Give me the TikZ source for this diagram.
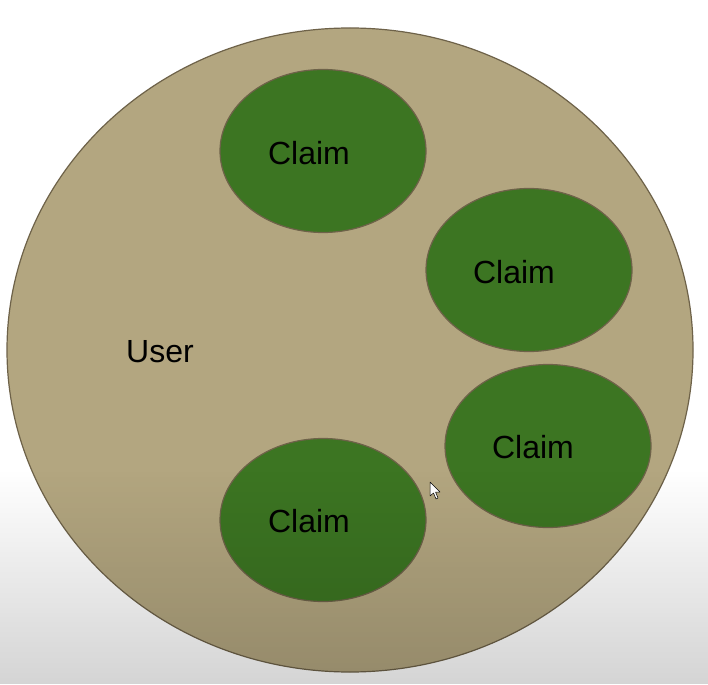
\documentclass[tikz,border=0pt]{standalone}
\usepackage{fontspec}
\setmainfont{Liberation Sans}
\usetikzlibrary{fadings}
\definecolor{tan}{HTML}{B3A680}
\definecolor{claimgreen}{HTML}{3C7522}
\definecolor{edge}{HTML}{6E6249}
\tikzfading[name=fadedown, top color=transparent!100, bottom color=transparent!0]
\tikzset{
  userset/.style={ellipse, fill=tan, draw=edge, line width=1.2pt, minimum width=686pt, minimum height=644pt, inner sep=0pt},
  claimset/.style={ellipse, fill=claimgreen, draw=edge, line width=1.2pt, minimum width=206pt, minimum height=163pt, inner sep=0pt},
  lbl/.style={font=\fontsize{32pt}{36pt}\selectfont, text=black, inner sep=0pt}
}
\usetikzlibrary{shapes.geometric}
\begin{document}
\begin{tikzpicture}[x=1pt,y=-1pt]
\useasboundingbox (0,0) rectangle (708,684);
\fill[white] (0,0) rectangle (708,684);
\node[userset] (user) at (350,350) {};
\node[lbl] (userlbl) at (160,352) {User};
\node[claimset] (c1) at (323,151) {};
\node[lbl] at (309,153) {Claim};
\node[claimset] (c2) at (529,270) {};
\node[lbl] at (514,272) {Claim};
\node[claimset] (c3) at (548,446) {};
\node[lbl] at (533,447) {Claim};
\node[claimset] (c4) at (323,520) {};
\node[lbl] at (309,521) {Claim};
% mouse cursor
\filldraw[fill=white, draw=black, line width=0.5pt, line join=round]
  (430,482) -- (430,496) -- (433.5,493) -- (436,499) -- (438,498) -- (435.5,492) -- (440,492) -- cycle;
% bottom darkening gradient
\fill[black, opacity=0.17, path fading=fadedown] (0,470) rectangle (708,684);
\end{tikzpicture}
\end{document}
